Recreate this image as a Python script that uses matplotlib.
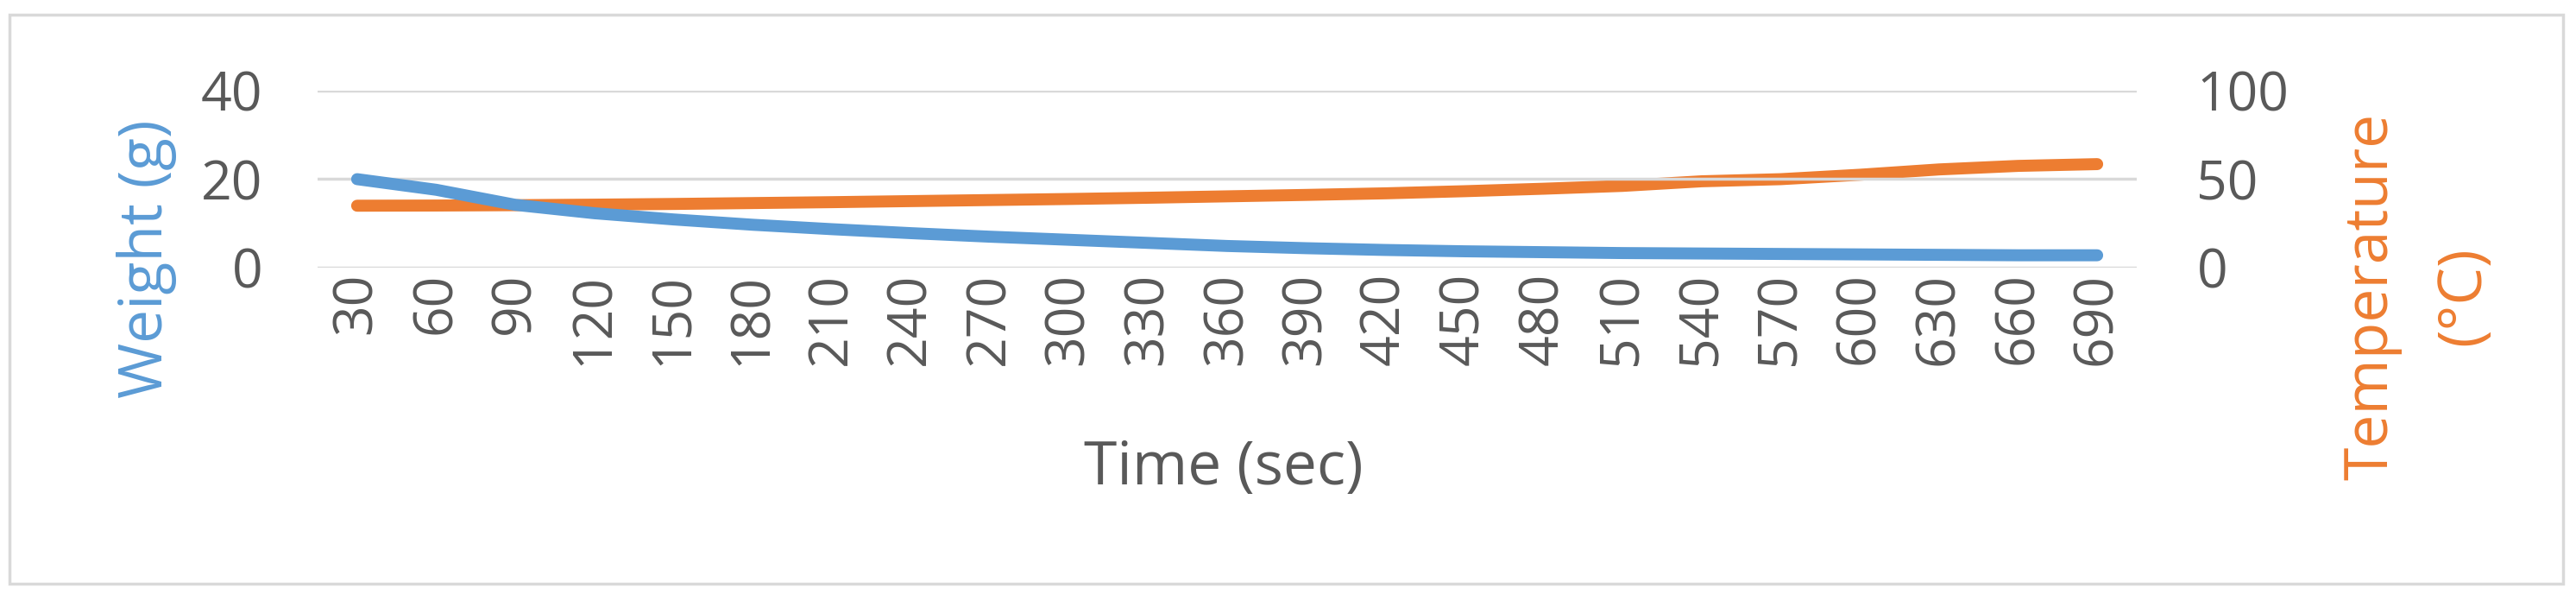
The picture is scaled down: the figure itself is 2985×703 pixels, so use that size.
import matplotlib
matplotlib.use("Agg")
import matplotlib.pyplot as plt
import numpy as np
from matplotlib.patches import Rectangle

# ---- data ------------------------------------------------------------------
time_sec = [30, 60, 90, 120, 150, 180, 210, 240, 270, 300, 330, 360,
            390, 420, 450, 480, 510, 540, 570, 600, 630, 660, 690]
weight_g = [20.0, 17.6, 14.2, 12.3, 10.9, 9.7, 8.7, 7.8, 7.0, 6.3, 5.6, 4.9,
            4.4, 4.0, 3.7, 3.5, 3.3, 3.2, 3.1, 3.0, 2.9, 2.8, 2.8]
temp_c = [35.0, 35.1, 35.3, 35.6, 36.0, 36.5, 37.0, 37.6, 38.2, 38.8, 39.5, 40.3,
          41.1, 42.0, 43.2, 44.6, 46.2, 48.8, 50.0, 52.5, 55.5, 57.5, 58.5]

left_ticks = [0, 20, 40]
right_ticks = [0, 50, 100]

BLUE = "#5B9BD5"
ORANGE = "#ED7D31"
TEXT = "#595959"
GRID = "#D9D9D9"

plt.rcParams["font.family"] = ["Open Sans", "DejaVu Sans"]

W, H = 2985, 703
fig = plt.figure(figsize=(W / 100, H / 100), dpi=100)


def fx(px):
    return px / W


def fy(py):
    return 1 - py / H


# chart border
fig.patches.append(Rectangle((fx(11), fy(676)), fx(2970 - 11), (676 - 17) / H,
                             transform=fig.transFigure, fill=False,
                             edgecolor=GRID, linewidth=2.5))

ax = fig.add_axes([fx(368), fy(310), fx(2476 - 368), (310 - 105) / H])
ax2 = ax.twinx()

x = np.arange(len(time_sec))
ax.plot(x, weight_g, color=BLUE, linewidth=10, solid_capstyle="round", zorder=3)
ax2.plot(x, temp_c, color=ORANGE, linewidth=10, solid_capstyle="round", zorder=3)

ax.set_xlim(-0.5, len(time_sec) - 0.5)
ax.set_ylim(0, 40)
ax2.set_ylim(0, 100)
ax.set_yticks(left_ticks)
ax2.set_yticks(right_ticks)
ax.set_xticks(x)
ax.set_xticklabels([str(t) for t in time_sec], rotation=90)

for y in left_ticks:
    ax.axhline(y, color=GRID, linewidth=2.5, zorder=1)

for a in (ax, ax2):
    for s in a.spines.values():
        s.set_visible(False)
    a.tick_params(length=0, labelsize=45, colors=TEXT)
ax.tick_params(axis="y", pad=46)
ax.tick_params(axis="x", pad=4)
ax2.tick_params(axis="y", pad=50)

# axis titles placed like the Excel original
fig.text(fx(1418), fy(543), "Time (sec)", fontsize=50, color=TEXT,
         ha="center", va="center")
fig.text(fx(170), fy(300), "Weight (g)", fontsize=50, color=BLUE,
         ha="center", va="center", rotation=90)
fig.text(fx(2802), fy(343), "Temperature\n(°C)", fontsize=50, color=ORANGE,
         ha="center", va="center", rotation=90, multialignment="center",
         linespacing=1.7)

ax.set_zorder(ax2.get_zorder() + 1)
ax.patch.set_visible(False)

fig.savefig("out.png", dpi=100, facecolor="white")
